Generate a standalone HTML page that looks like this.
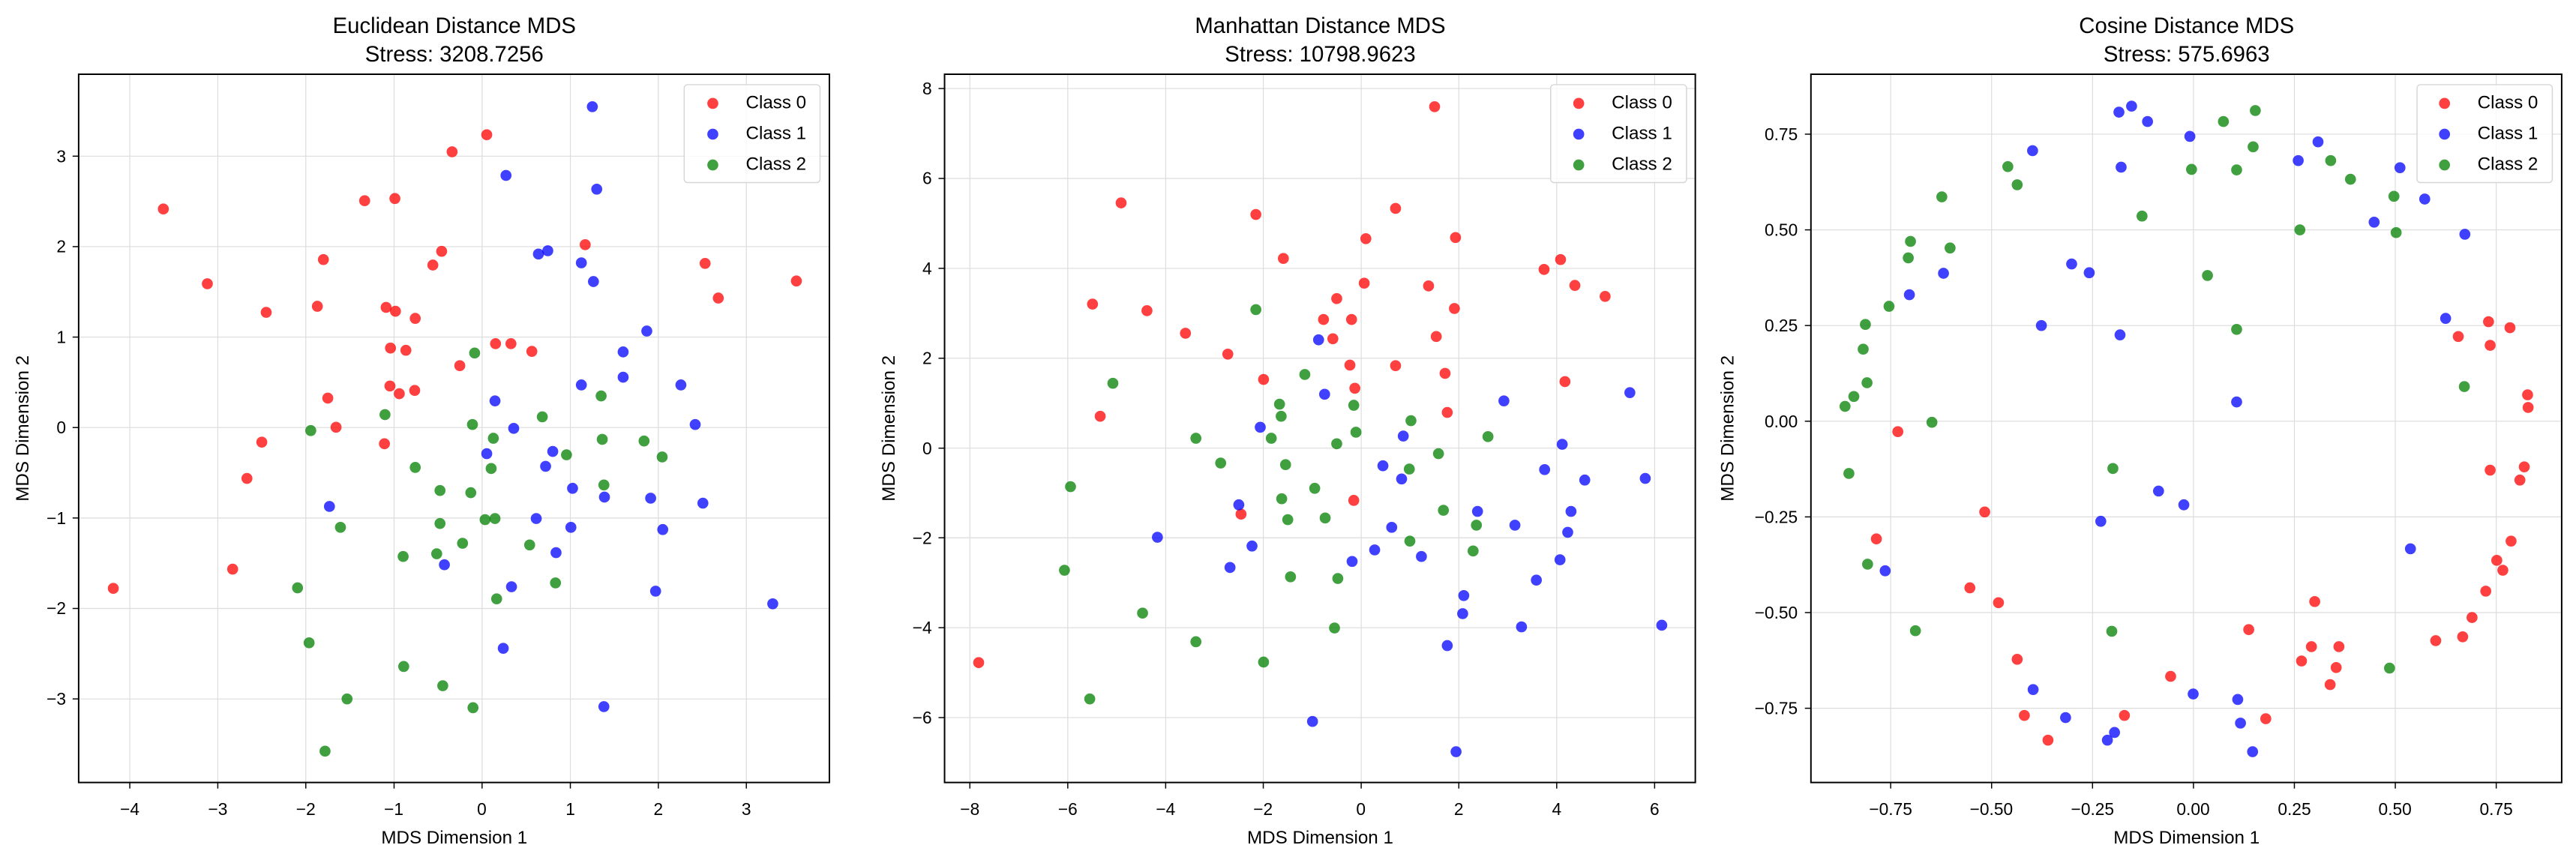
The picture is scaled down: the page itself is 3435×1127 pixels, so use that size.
<!DOCTYPE html>
<html><head><meta charset="utf-8"><style>
html,body{margin:0;padding:0;background:#fff;}
svg{display:block;}
text{font-family:"Liberation Sans",sans-serif;fill:#000;}
.t{font-size:40px;text-anchor:middle;}
.k{font-size:31px;}
.l{font-size:33px;}
.g{stroke:#dcdcdc;stroke-width:1.6;}
.r circle,.b circle,.n circle{r:10px;}
.r circle{fill:#ff0000;fill-opacity:.75;}
.b circle{fill:#0000ff;fill-opacity:.75;}
.n circle{fill:#008000;fill-opacity:.75;}
</style></head><body>
<svg width="3435" height="1127" viewBox="0 0 3435 1127" xmlns="http://www.w3.org/2000/svg">
<rect width="3435" height="1127" fill="#fff"/>

<!-- Panel 1 -->
<g transform="scale(0.7334)">
<g class="g">
<line x1="236" y1="135" x2="236" y2="1423"/><line x1="396" y1="135" x2="396" y2="1423"/><line x1="556" y1="135" x2="556" y2="1423"/><line x1="716.5" y1="135" x2="716.5" y2="1423"/><line x1="876.5" y1="135" x2="876.5" y2="1423"/><line x1="1037" y1="135" x2="1037" y2="1423"/><line x1="1197" y1="135" x2="1197" y2="1423"/><line x1="1357" y1="135" x2="1357" y2="1423"/>
<line x1="143" y1="284" x2="1508" y2="284"/><line x1="143" y1="448.5" x2="1508" y2="448.5"/><line x1="143" y1="613" x2="1508" y2="613"/><line x1="143" y1="777.5" x2="1508" y2="777.5"/><line x1="143" y1="942" x2="1508" y2="942"/><line x1="143" y1="1106.5" x2="1508" y2="1106.5"/><line x1="143" y1="1271" x2="1508" y2="1271"/>
</g>
<g class="r">
<circle cx="885" cy="245" r="9"/><circle cx="822" cy="276" r="9"/><circle cx="297" cy="380" r="9"/><circle cx="663" cy="365" r="9"/><circle cx="718" cy="361" r="9"/><circle cx="1064" cy="445" r="9"/><circle cx="588" cy="472" r="9"/><circle cx="803" cy="457" r="9"/><circle cx="787" cy="482" r="9"/><circle cx="1282" cy="479" r="9"/><circle cx="1448" cy="511" r="9"/><circle cx="377" cy="516" r="9"/><circle cx="1306" cy="542" r="9"/><circle cx="484" cy="568" r="9"/><circle cx="577" cy="557" r="9"/><circle cx="702" cy="559" r="9"/><circle cx="719" cy="566" r="9"/><circle cx="755" cy="579" r="9"/><circle cx="710" cy="633" r="9"/><circle cx="738" cy="637" r="9"/><circle cx="901" cy="625" r="9"/><circle cx="929" cy="625" r="9"/><circle cx="967" cy="639" r="9"/><circle cx="836" cy="665" r="9"/><circle cx="709" cy="702" r="9"/><circle cx="726" cy="716" r="9"/><circle cx="754" cy="710" r="9"/><circle cx="596" cy="724" r="9"/><circle cx="611" cy="777" r="9"/><circle cx="476" cy="804" r="9"/><circle cx="699" cy="807" r="9"/><circle cx="449" cy="870" r="9"/><circle cx="423" cy="1035" r="9"/><circle cx="206" cy="1070" r="9"/>
</g>
<g class="b">
<circle cx="1077" cy="194" r="9"/><circle cx="920" cy="319" r="9"/><circle cx="1085" cy="344" r="9"/><circle cx="979" cy="462" r="9"/><circle cx="996" cy="456" r="9"/><circle cx="1057" cy="478" r="9"/><circle cx="1079" cy="512" r="9"/><circle cx="1176" cy="602" r="9"/><circle cx="1133" cy="640" r="9"/><circle cx="1133" cy="686" r="9"/><circle cx="1057" cy="700" r="9"/><circle cx="1238" cy="700" r="9"/><circle cx="900" cy="729" r="9"/><circle cx="934" cy="779" r="9"/><circle cx="1264" cy="772" r="9"/><circle cx="885" cy="825" r="9"/><circle cx="1005" cy="821" r="9"/><circle cx="992" cy="848" r="9"/><circle cx="1041" cy="888" r="9"/><circle cx="1099" cy="904" r="9"/><circle cx="1183" cy="906" r="9"/><circle cx="1278" cy="915" r="9"/><circle cx="599" cy="921" r="9"/><circle cx="975" cy="943" r="9"/><circle cx="1038" cy="959" r="9"/><circle cx="1205" cy="963" r="9"/><circle cx="1011" cy="1005" r="9"/><circle cx="808" cy="1027" r="9"/><circle cx="930" cy="1067" r="9"/><circle cx="1192" cy="1075" r="9"/><circle cx="1405" cy="1098" r="9"/><circle cx="915" cy="1179" r="9"/><circle cx="1098" cy="1285" r="9"/>
</g>
<g class="n">
<circle cx="863" cy="642" r="9"/><circle cx="1093" cy="720" r="9"/><circle cx="700" cy="754" r="9"/><circle cx="986" cy="758" r="9"/><circle cx="859" cy="772" r="9"/><circle cx="565" cy="783" r="9"/><circle cx="897" cy="797" r="9"/><circle cx="1095" cy="799" r="9"/><circle cx="1171" cy="802" r="9"/><circle cx="1204" cy="831" r="9"/><circle cx="1030" cy="827" r="9"/><circle cx="755" cy="850" r="9"/><circle cx="893" cy="852" r="9"/><circle cx="1098" cy="882" r="9"/><circle cx="800" cy="892" r="9"/><circle cx="856" cy="896" r="9"/><circle cx="882" cy="945" r="9"/><circle cx="900" cy="943" r="9"/><circle cx="800" cy="952" r="9"/><circle cx="619" cy="959" r="9"/><circle cx="841" cy="988" r="9"/><circle cx="963" cy="991" r="9"/><circle cx="733" cy="1012" r="9"/><circle cx="794" cy="1007" r="9"/><circle cx="1010" cy="1060" r="9"/><circle cx="541" cy="1069" r="9"/><circle cx="903" cy="1089" r="9"/><circle cx="562" cy="1169" r="9"/><circle cx="734" cy="1212" r="9"/><circle cx="805" cy="1247" r="9"/><circle cx="631" cy="1271" r="9"/><circle cx="860" cy="1287" r="9"/><circle cx="591" cy="1366" r="9"/>
</g>
<rect x="143" y="135" width="1365" height="1288" fill="none" stroke="#000" stroke-width="2.7"/>
<g stroke="#000" stroke-width="2">
<line x1="236" y1="1423" x2="236" y2="1434"/><line x1="396" y1="1423" x2="396" y2="1434"/><line x1="556" y1="1423" x2="556" y2="1434"/><line x1="716.5" y1="1423" x2="716.5" y2="1434"/><line x1="876.5" y1="1423" x2="876.5" y2="1434"/><line x1="1037" y1="1423" x2="1037" y2="1434"/><line x1="1197" y1="1423" x2="1197" y2="1434"/><line x1="1357" y1="1423" x2="1357" y2="1434"/>
<line x1="132" y1="284" x2="143" y2="284"/><line x1="132" y1="448.5" x2="143" y2="448.5"/><line x1="132" y1="613" x2="143" y2="613"/><line x1="132" y1="777.5" x2="143" y2="777.5"/><line x1="132" y1="942" x2="143" y2="942"/><line x1="132" y1="1106.5" x2="143" y2="1106.5"/><line x1="132" y1="1271" x2="143" y2="1271"/>
</g>
<g class="k" text-anchor="middle">
<text x="236" y="1482">−4</text><text x="396" y="1482">−3</text><text x="556" y="1482">−2</text><text x="716" y="1482">−1</text><text x="876" y="1482">0</text><text x="1037" y="1482">1</text><text x="1197" y="1482">2</text><text x="1357" y="1482">3</text>
</g>
<g class="k" text-anchor="end">
<text x="120" y="295">3</text><text x="120" y="459">2</text><text x="120" y="624">1</text><text x="120" y="788">0</text><text x="120" y="953">−1</text><text x="120" y="1117">−2</text><text x="120" y="1282">−3</text>
</g>
<text class="t" x="826" y="60">Euclidean Distance MDS</text>
<text class="t" x="826" y="112">Stress: 3208.7256</text>
<text class="l" x="826" y="1534" text-anchor="middle">MDS Dimension 1</text>
<text class="l" transform="translate(52,779) rotate(-90)" text-anchor="middle">MDS Dimension 2</text>
<rect x="1244" y="154" width="247" height="178" rx="6" fill="#fff" fill-opacity=".8" stroke="#d6d6d6" stroke-width="2"/>
<circle cx="1296" cy="188" r="10" fill="#f00" fill-opacity=".75"/><circle cx="1296" cy="244" r="10" fill="#00f" fill-opacity=".75"/><circle cx="1296" cy="300" r="10" fill="#008000" fill-opacity=".75"/>
<text class="l" x="1356" y="197">Class 0</text><text class="l" x="1356" y="253">Class 1</text><text class="l" x="1356" y="309">Class 2</text>
</g>

<!-- Panel 2 -->
<g transform="translate(1140,0) scale(0.7334)">
<g class="g">
<line x1="209" y1="135" x2="209" y2="1423"/><line x1="387" y1="135" x2="387" y2="1423"/><line x1="565" y1="135" x2="565" y2="1423"/><line x1="742.5" y1="135" x2="742.5" y2="1423"/><line x1="920.5" y1="135" x2="920.5" y2="1423"/><line x1="1098" y1="135" x2="1098" y2="1423"/><line x1="1276" y1="135" x2="1276" y2="1423"/><line x1="1454" y1="135" x2="1454" y2="1423"/>
<line x1="163" y1="161" x2="1528" y2="161"/><line x1="163" y1="324.5" x2="1528" y2="324.5"/><line x1="163" y1="488" x2="1528" y2="488"/><line x1="163" y1="651.5" x2="1528" y2="651.5"/><line x1="163" y1="815" x2="1528" y2="815"/><line x1="163" y1="978" x2="1528" y2="978"/><line x1="163" y1="1141.5" x2="1528" y2="1141.5"/><line x1="163" y1="1305" x2="1528" y2="1305"/>
</g>
<g class="r">
<circle cx="1054" cy="194" r="9"/><circle cx="484" cy="369" r="9"/><circle cx="729" cy="390" r="9"/><circle cx="983" cy="379" r="9"/><circle cx="929" cy="434" r="9"/><circle cx="1092" cy="432" r="9"/><circle cx="779" cy="470" r="9"/><circle cx="1283" cy="472" r="9"/><circle cx="1253" cy="490" r="9"/><circle cx="1309" cy="519" r="9"/><circle cx="1364" cy="539" r="9"/><circle cx="926" cy="515" r="9"/><circle cx="1043" cy="520" r="9"/><circle cx="432" cy="553" r="9"/><circle cx="531" cy="565" r="9"/><circle cx="876" cy="543" r="9"/><circle cx="852" cy="581" r="9"/><circle cx="903" cy="581" r="9"/><circle cx="1090" cy="561" r="9"/><circle cx="601" cy="606" r="9"/><circle cx="869" cy="616" r="9"/><circle cx="1057" cy="612" r="9"/><circle cx="678" cy="644" r="9"/><circle cx="900" cy="664" r="9"/><circle cx="983" cy="665" r="9"/><circle cx="1073" cy="679" r="9"/><circle cx="743" cy="690" r="9"/><circle cx="1291" cy="694" r="9"/><circle cx="909" cy="706" r="9"/><circle cx="1077" cy="750" r="9"/><circle cx="446" cy="757" r="9"/><circle cx="907" cy="910" r="9"/><circle cx="702" cy="935" r="9"/><circle cx="225" cy="1205" r="9"/>
</g>
<g class="b">
<circle cx="843" cy="618" r="9"/><circle cx="854" cy="717" r="9"/><circle cx="1180" cy="729" r="9"/><circle cx="1409" cy="714" r="9"/><circle cx="737" cy="777" r="9"/><circle cx="997" cy="793" r="9"/><circle cx="1286" cy="808" r="9"/><circle cx="960" cy="847" r="9"/><circle cx="1254" cy="854" r="9"/><circle cx="994" cy="871" r="9"/><circle cx="1327" cy="873" r="9"/><circle cx="1437" cy="870" r="9"/><circle cx="698" cy="918" r="9"/><circle cx="1132" cy="930" r="9"/><circle cx="1302" cy="930" r="9"/><circle cx="550" cy="977" r="9"/><circle cx="976" cy="959" r="9"/><circle cx="1200" cy="955" r="9"/><circle cx="1296" cy="968" r="9"/><circle cx="722" cy="993" r="9"/><circle cx="945" cy="1000" r="9"/><circle cx="1030" cy="1012" r="9"/><circle cx="904" cy="1021" r="9"/><circle cx="1282" cy="1018" r="9"/><circle cx="682" cy="1032" r="9"/><circle cx="1239" cy="1055" r="9"/><circle cx="1107" cy="1083" r="9"/><circle cx="1105" cy="1116" r="9"/><circle cx="1212" cy="1140" r="9"/><circle cx="1467" cy="1137" r="9"/><circle cx="1077" cy="1174" r="9"/><circle cx="832" cy="1312" r="9"/><circle cx="1093" cy="1367" r="9"/>
</g>
<g class="n">
<circle cx="729" cy="563" r="9"/><circle cx="818" cy="681" r="9"/><circle cx="469" cy="697" r="9"/><circle cx="772" cy="735" r="9"/><circle cx="907" cy="737" r="9"/><circle cx="775" cy="757" r="9"/><circle cx="1011" cy="765" r="9"/><circle cx="757" cy="797" r="9"/><circle cx="620" cy="797" r="9"/><circle cx="911" cy="786" r="9"/><circle cx="876" cy="807" r="9"/><circle cx="1151" cy="794" r="9"/><circle cx="1061" cy="825" r="9"/><circle cx="665" cy="842" r="9"/><circle cx="783" cy="845" r="9"/><circle cx="1008" cy="853" r="9"/><circle cx="392" cy="885" r="9"/><circle cx="836" cy="888" r="9"/><circle cx="776" cy="907" r="9"/><circle cx="1070" cy="928" r="9"/><circle cx="855" cy="942" r="9"/><circle cx="787" cy="945" r="9"/><circle cx="1130" cy="955" r="9"/><circle cx="1009" cy="984" r="9"/><circle cx="1124" cy="1002" r="9"/><circle cx="381" cy="1037" r="9"/><circle cx="792" cy="1049" r="9"/><circle cx="878" cy="1052" r="9"/><circle cx="523" cy="1115" r="9"/><circle cx="872" cy="1142" r="9"/><circle cx="620" cy="1167" r="9"/><circle cx="743" cy="1204" r="9"/><circle cx="427" cy="1271" r="9"/>
</g>
<rect x="163" y="135" width="1365" height="1288" fill="none" stroke="#000" stroke-width="2.7"/>
<g stroke="#000" stroke-width="2">
<line x1="209" y1="1423" x2="209" y2="1434"/><line x1="387" y1="1423" x2="387" y2="1434"/><line x1="565" y1="1423" x2="565" y2="1434"/><line x1="742.5" y1="1423" x2="742.5" y2="1434"/><line x1="920.5" y1="1423" x2="920.5" y2="1434"/><line x1="1098" y1="1423" x2="1098" y2="1434"/><line x1="1276" y1="1423" x2="1276" y2="1434"/><line x1="1454" y1="1423" x2="1454" y2="1434"/>
<line x1="152" y1="161" x2="163" y2="161"/><line x1="152" y1="324.5" x2="163" y2="324.5"/><line x1="152" y1="488" x2="163" y2="488"/><line x1="152" y1="651.5" x2="163" y2="651.5"/><line x1="152" y1="815" x2="163" y2="815"/><line x1="152" y1="978" x2="163" y2="978"/><line x1="152" y1="1141.5" x2="163" y2="1141.5"/><line x1="152" y1="1305" x2="163" y2="1305"/>
</g>
<g class="k" text-anchor="middle">
<text x="209" y="1482">−8</text><text x="387" y="1482">−6</text><text x="565" y="1482">−4</text><text x="742" y="1482">−2</text><text x="920" y="1482">0</text><text x="1098" y="1482">2</text><text x="1276" y="1482">4</text><text x="1454" y="1482">6</text>
</g>
<g class="k" text-anchor="end">
<text x="140" y="172">8</text><text x="140" y="335">6</text><text x="140" y="499">4</text><text x="140" y="662">2</text><text x="140" y="826">0</text><text x="140" y="989">−2</text><text x="140" y="1152">−4</text><text x="140" y="1316">−6</text>
</g>
<text class="t" x="846" y="60">Manhattan Distance MDS</text>
<text class="t" x="846" y="112">Stress: 10798.9623</text>
<text class="l" x="846" y="1534" text-anchor="middle">MDS Dimension 1</text>
<text class="l" transform="translate(72,779) rotate(-90)" text-anchor="middle">MDS Dimension 2</text>
<rect x="1265" y="154" width="247" height="178" rx="6" fill="#fff" fill-opacity=".8" stroke="#d6d6d6" stroke-width="2"/>
<circle cx="1316" cy="188" r="10" fill="#f00" fill-opacity=".75"/><circle cx="1316" cy="244" r="10" fill="#00f" fill-opacity=".75"/><circle cx="1316" cy="300" r="10" fill="#008000" fill-opacity=".75"/>
<text class="l" x="1376" y="197">Class 0</text><text class="l" x="1376" y="253">Class 1</text><text class="l" x="1376" y="309">Class 2</text>
</g>

<!-- Panel 3 -->
<g transform="translate(2285,0) scale(0.7334)">
<g class="g">
<line x1="322" y1="135" x2="322" y2="1423"/><line x1="505.5" y1="135" x2="505.5" y2="1423"/><line x1="689" y1="135" x2="689" y2="1423"/><line x1="872.5" y1="135" x2="872.5" y2="1423"/><line x1="1056" y1="135" x2="1056" y2="1423"/><line x1="1239.5" y1="135" x2="1239.5" y2="1423"/><line x1="1423" y1="135" x2="1423" y2="1423"/>
<line x1="177" y1="244" x2="1542" y2="244"/><line x1="177" y1="418" x2="1542" y2="418"/><line x1="177" y1="592" x2="1542" y2="592"/><line x1="177" y1="766" x2="1542" y2="766"/><line x1="177" y1="940" x2="1542" y2="940"/><line x1="177" y1="1114" x2="1542" y2="1114"/><line x1="177" y1="1288" x2="1542" y2="1288"/>
</g>
<g class="r">
<circle cx="335" cy="785" r="9"/><circle cx="493" cy="931" r="9"/><circle cx="296" cy="980" r="9"/><circle cx="466" cy="1069" r="9"/><circle cx="518" cy="1096" r="9"/><circle cx="552" cy="1199" r="9"/><circle cx="565" cy="1301" r="9"/><circle cx="608" cy="1346" r="9"/><circle cx="747" cy="1301" r="9"/><circle cx="831" cy="1230" r="9"/><circle cx="973" cy="1145" r="9"/><circle cx="1004" cy="1307" r="9"/><circle cx="1069" cy="1202" r="9"/><circle cx="1087" cy="1176" r="9"/><circle cx="1093" cy="1094" r="9"/><circle cx="1137" cy="1176" r="9"/><circle cx="1132" cy="1214" r="9"/><circle cx="1121" cy="1245" r="9"/><circle cx="1313" cy="1165" r="9"/><circle cx="1362" cy="1158" r="9"/><circle cx="1379" cy="1123" r="9"/><circle cx="1404" cy="1075" r="9"/><circle cx="1435" cy="1037" r="9"/><circle cx="1424" cy="1019" r="9"/><circle cx="1450" cy="984" r="9"/><circle cx="1466" cy="873" r="9"/><circle cx="1474" cy="849" r="9"/><circle cx="1412" cy="855" r="9"/><circle cx="1481" cy="741" r="9"/><circle cx="1480" cy="718" r="9"/><circle cx="1354" cy="612" r="9"/><circle cx="1409" cy="585" r="9"/><circle cx="1412" cy="628" r="9"/><circle cx="1448" cy="596" r="9"/>
</g>
<g class="b">
<circle cx="737" cy="204" r="9"/><circle cx="760" cy="193" r="9"/><circle cx="789" cy="221" r="9"/><circle cx="866" cy="248" r="9"/><circle cx="580" cy="274" r="9"/><circle cx="741" cy="304" r="9"/><circle cx="1099" cy="258" r="9"/><circle cx="1063" cy="292" r="9"/><circle cx="1248" cy="305" r="9"/><circle cx="1293" cy="362" r="9"/><circle cx="1201" cy="404" r="9"/><circle cx="1366" cy="426" r="9"/><circle cx="418" cy="497" r="9"/><circle cx="356" cy="536" r="9"/><circle cx="651" cy="480" r="9"/><circle cx="683" cy="496" r="9"/><circle cx="596" cy="592" r="9"/><circle cx="739" cy="609" r="9"/><circle cx="1331" cy="579" r="9"/><circle cx="951" cy="731" r="9"/><circle cx="809" cy="893" r="9"/><circle cx="855" cy="918" r="9"/><circle cx="704" cy="948" r="9"/><circle cx="1267" cy="998" r="9"/><circle cx="312" cy="1038" r="9"/><circle cx="581" cy="1254" r="9"/><circle cx="640" cy="1305" r="9"/><circle cx="716" cy="1346" r="9"/><circle cx="729" cy="1332" r="9"/><circle cx="872" cy="1262" r="9"/><circle cx="953" cy="1272" r="9"/><circle cx="958" cy="1315" r="9"/><circle cx="980" cy="1367" r="9"/>
</g>
<g class="n">
<circle cx="985" cy="201" r="9"/><circle cx="927" cy="221" r="9"/><circle cx="981" cy="267" r="9"/><circle cx="869" cy="308" r="9"/><circle cx="951" cy="309" r="9"/><circle cx="1122" cy="292" r="9"/><circle cx="1158" cy="326" r="9"/><circle cx="535" cy="303" r="9"/><circle cx="552" cy="336" r="9"/><circle cx="415" cy="358" r="9"/><circle cx="1237" cy="357" r="9"/><circle cx="1241" cy="423" r="9"/><circle cx="1066" cy="418" r="9"/><circle cx="779" cy="393" r="9"/><circle cx="358" cy="439" r="9"/><circle cx="430" cy="451" r="9"/><circle cx="354" cy="469" r="9"/><circle cx="898" cy="501" r="9"/><circle cx="319" cy="557" r="9"/><circle cx="276" cy="590" r="9"/><circle cx="272" cy="635" r="9"/><circle cx="279" cy="696" r="9"/><circle cx="951" cy="599" r="9"/><circle cx="255" cy="721" r="9"/><circle cx="239" cy="739" r="9"/><circle cx="397" cy="768" r="9"/><circle cx="1365" cy="703" r="9"/><circle cx="246" cy="861" r="9"/><circle cx="726" cy="852" r="9"/><circle cx="280" cy="1026" r="9"/><circle cx="367" cy="1147" r="9"/><circle cx="724" cy="1148" r="9"/><circle cx="1229" cy="1215" r="9"/>
</g>
<rect x="177" y="135" width="1365" height="1288" fill="none" stroke="#000" stroke-width="2.7"/>
<g stroke="#000" stroke-width="2">
<line x1="322" y1="1423" x2="322" y2="1434"/><line x1="505.5" y1="1423" x2="505.5" y2="1434"/><line x1="689" y1="1423" x2="689" y2="1434"/><line x1="872.5" y1="1423" x2="872.5" y2="1434"/><line x1="1056" y1="1423" x2="1056" y2="1434"/><line x1="1239.5" y1="1423" x2="1239.5" y2="1434"/><line x1="1423" y1="1423" x2="1423" y2="1434"/>
<line x1="166" y1="244" x2="177" y2="244"/><line x1="166" y1="418" x2="177" y2="418"/><line x1="166" y1="592" x2="177" y2="592"/><line x1="166" y1="766" x2="177" y2="766"/><line x1="166" y1="940" x2="177" y2="940"/><line x1="166" y1="1114" x2="177" y2="1114"/><line x1="166" y1="1288" x2="177" y2="1288"/>
</g>
<g class="k" text-anchor="middle">
<text x="322" y="1482">−0.75</text><text x="505" y="1482">−0.50</text><text x="689" y="1482">−0.25</text><text x="872" y="1482">0.00</text><text x="1056" y="1482">0.25</text><text x="1239" y="1482">0.50</text><text x="1423" y="1482">0.75</text>
</g>
<g class="k" text-anchor="end">
<text x="153" y="255">0.75</text><text x="153" y="429">0.50</text><text x="153" y="603">0.25</text><text x="153" y="777">0.00</text><text x="153" y="951">−0.25</text><text x="153" y="1125">−0.50</text><text x="153" y="1299">−0.75</text>
</g>
<text class="t" x="860" y="60">Cosine Distance MDS</text>
<text class="t" x="860" y="112">Stress: 575.6963</text>
<text class="l" x="860" y="1534" text-anchor="middle">MDS Dimension 1</text>
<text class="l" transform="translate(36,779) rotate(-90)" text-anchor="middle">MDS Dimension 2</text>
<rect x="1279" y="154" width="246" height="178" rx="6" fill="#fff" fill-opacity=".8" stroke="#d6d6d6" stroke-width="2"/>
<circle cx="1329" cy="188" r="10" fill="#f00" fill-opacity=".75"/><circle cx="1329" cy="244" r="10" fill="#00f" fill-opacity=".75"/><circle cx="1329" cy="300" r="10" fill="#008000" fill-opacity=".75"/>
<text class="l" x="1389" y="197">Class 0</text><text class="l" x="1389" y="253">Class 1</text><text class="l" x="1389" y="309">Class 2</text>
</g>
</svg>
</body></html>
